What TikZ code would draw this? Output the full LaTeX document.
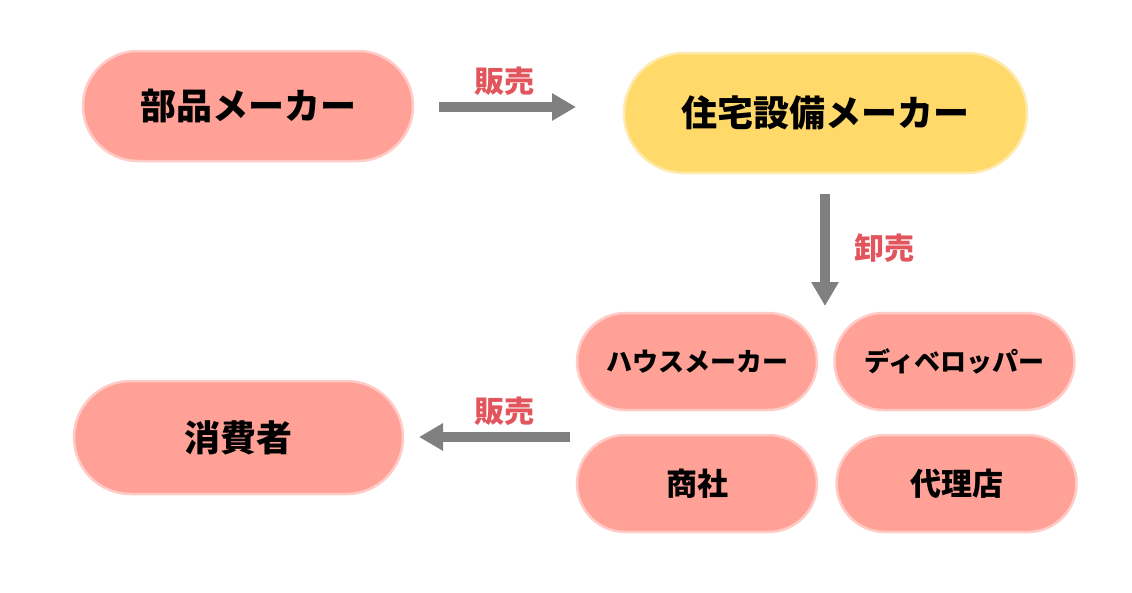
\documentclass[tikz,border=0pt]{standalone}
\usepackage{fontspec}
\newfontfamily\jp{Noto Sans CJK JP}
\usetikzlibrary{arrows.meta}
\definecolor{boxred}{HTML}{FFA197}
\definecolor{boxyellow}{HTML}{FFD96A}
\definecolor{lblred}{HTML}{E2555D}
\definecolor{arrgray}{HTML}{808080}
\tikzset{
  pill/.style={rectangle, fill=#1, draw=#1!55!white, line width=2.5pt, inner sep=0pt, font=\jp\bfseries},
  bigpill/.style={pill=#1, minimum width=330pt, minimum height=110pt, rounded corners=55pt},
  smallpill/.style={pill=#1, minimum width=240pt, minimum height=97pt, rounded corners=48.5pt},
  flow/.style={draw=arrgray, line width=10pt, -{Triangle[length=24pt,width=26pt]}},
  lbl/.style={text=lblred, font=\jp\bfseries\fontsize{30pt}{32pt}\selectfont, inner sep=0pt},
}
\begin{document}
\begin{tikzpicture}[x=1pt,y=-1pt]
\useasboundingbox (0,0) rectangle (1132,592);
\node[bigpill=boxred, font=\jp\bfseries\fontsize{36pt}{38pt}\selectfont] (parts) at (248,106) {部品メーカー};
\node[pill=boxyellow, minimum width=403pt, minimum height=120pt, rounded corners=60pt, font=\jp\bfseries\fontsize{36pt}{38pt}\selectfont] (equip) at (825.5,113) {住宅設備メーカー};
\node[smallpill=boxred, font=\jp\bfseries\fontsize{26pt}{28pt}\selectfont] (house) at (697,361.5) {ハウスメーカー};
\node[smallpill=boxred, font=\jp\bfseries\fontsize{26pt}{28pt}\selectfont] (dev) at (954.5,361.5) {ディベロッパー};
\node[smallpill=boxred, font=\jp\bfseries\fontsize{31pt}{33pt}\selectfont] (trade) at (697,483.5) {商社};
\node[smallpill=boxred, font=\jp\bfseries\fontsize{31pt}{33pt}\selectfont] (agent) at (956.5,483.5) {代理店};
\node[bigpill=boxred, minimum width=329pt, minimum height=113pt, rounded corners=56.5pt, font=\jp\bfseries\fontsize{36pt}{38pt}\selectfont] (cons) at (238.5,437.5) {消費者};
\coordinate (a1s) at (439,107);
\coordinate (a1e) at (576,107);
\draw[flow] (a1s) -- (a1e);
\node[lbl] (l1) at (504,81) {販売};
\coordinate (a2s) at (825,194);
\coordinate (a2e) at (825,306);
\draw[flow] (a2s) -- (a2e);
\node[lbl] (l2) at (884,248) {卸売};
\coordinate (a3s) at (570,437);
\coordinate (a3e) at (419,437);
\draw[flow] (a3s) -- (a3e);
\node[lbl] (l3) at (504,411) {販売};
\end{tikzpicture}
\end{document}
